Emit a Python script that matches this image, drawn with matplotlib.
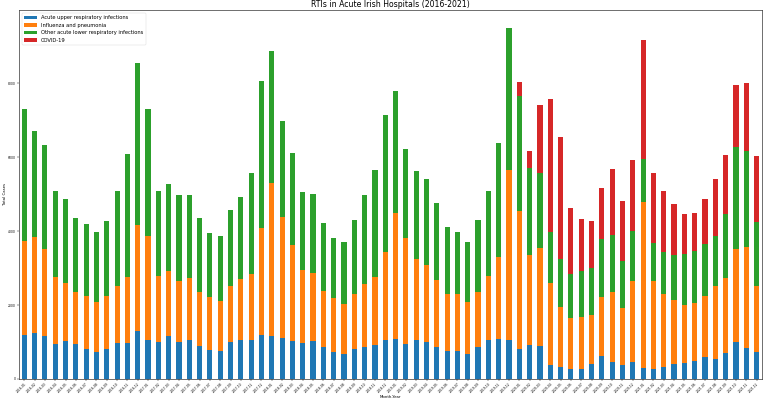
import matplotlib
matplotlib.use("Agg")
from matplotlib import pyplot as plt
import pandas as pd

months = pd.date_range("2016-01-01", "2021-12-01", freq="MS").strftime("%Y-%m")

upper_resp = [1190, 1235, 1162, 946, 1019, 946, 803, 739, 803, 982, 965, 1297,
              1054, 1009, 1162, 1000, 1054, 892, 793, 757, 991, 1046, 1046, 1189,
              1162, 1100, 1019, 965, 1019, 856, 739, 676, 811, 874, 919, 1054,
              1089, 946, 1054, 1009, 874, 766, 748, 676, 865, 1054, 1081, 1054,
              803, 911, 884, 387, 316, 279, 270, 397, 630, 460, 370, 468,
              306, 262, 316, 405, 424, 495, 586, 541, 703, 1009, 838, 739]
flu_pneu = [2540, 2612, 2352, 1820, 1576, 1397, 1432, 1342, 1440, 1540, 1784, 2866,
            2811, 1775, 1757, 1658, 1676, 1469, 1415, 1343, 1531, 1657, 1792, 2891,
            4138, 3287, 2594, 1972, 1837, 1532, 1442, 1360, 1495, 1694, 1838, 2387,
            3406, 2865, 2198, 2072, 1811, 1540, 1541, 1397, 1487, 1739, 2225, 4595,
            3738, 2441, 2648, 2216, 1639, 1379, 1397, 1333, 1595, 1901, 1558, 2172,
            4487, 2396, 1973, 1730, 1576, 1559, 1649, 1973, 2027, 2505, 2730, 1783]
lower_resp = [3586, 2856, 2811, 2324, 2279, 2017, 1963, 1884, 2036, 2551, 3333, 4387,
              3452, 2298, 2352, 2316, 2235, 1982, 1747, 1774, 2038, 2208, 2739, 3990,
              3574, 2595, 2487, 2109, 2136, 1828, 1621, 1667, 2007, 2406, 2884, 3713,
              3298, 2398, 2362, 2333, 2081, 1803, 1693, 1622, 1954, 2289, 3065, 3857,
              3108, 2343, 2028, 1379, 1297, 1172, 1244, 1262, 1551, 1531, 1262, 1351,
              1153, 1009, 1144, 1208, 1370, 1406, 1423, 1360, 1730, 2749, 2595, 1730]
covid = [0] * 48 + [387, 459, 1865, 3595, 3281, 1801, 1405, 1287, 1391, 1793, 1630, 1929,
                    3217, 1910, 1640, 1396, 1099, 1018, 1207, 1540, 1586, 1684, 1856, 1784]

df = pd.DataFrame({
    "Acute upper respiratory infections": upper_resp,
    "Influenza and pneumonia": flu_pneu,
    "Other acute lower respiratory infections": lower_resp,
    "COVID-19": covid,
}, index=months)

fig = plt.figure(figsize=(7.64, 4.01), dpi=100)
ax = fig.add_axes([0.025, 0.055, 0.972, 0.92])

df.plot(kind="bar", stacked=True, ax=ax, width=0.5,
        color=["#1f77b4", "#ff7f0e", "#2ca02c", "#d62728"])

ax.set_title("RTIs in Acute Irish Hospitals (2016-2021)", fontsize=5.6, pad=2)
ax.set_xlabel("Month-Year", fontsize=2.8, labelpad=1)
ax.set_ylabel("Total Cases", fontsize=2.8, labelpad=1)
ax.tick_params(axis="both", labelsize=2.2, length=1.2, width=0.3, pad=1)
plt.setp(ax.get_xticklabels(), rotation=45, ha="right", rotation_mode="anchor")
for s in ax.spines.values():
    s.set_linewidth(0.4)

leg = ax.legend(loc="upper left", fontsize=3.7, handlelength=2.5, borderpad=0.5)
leg.get_frame().set_linewidth(0.3)

plt.savefig("out.png", dpi=100)
